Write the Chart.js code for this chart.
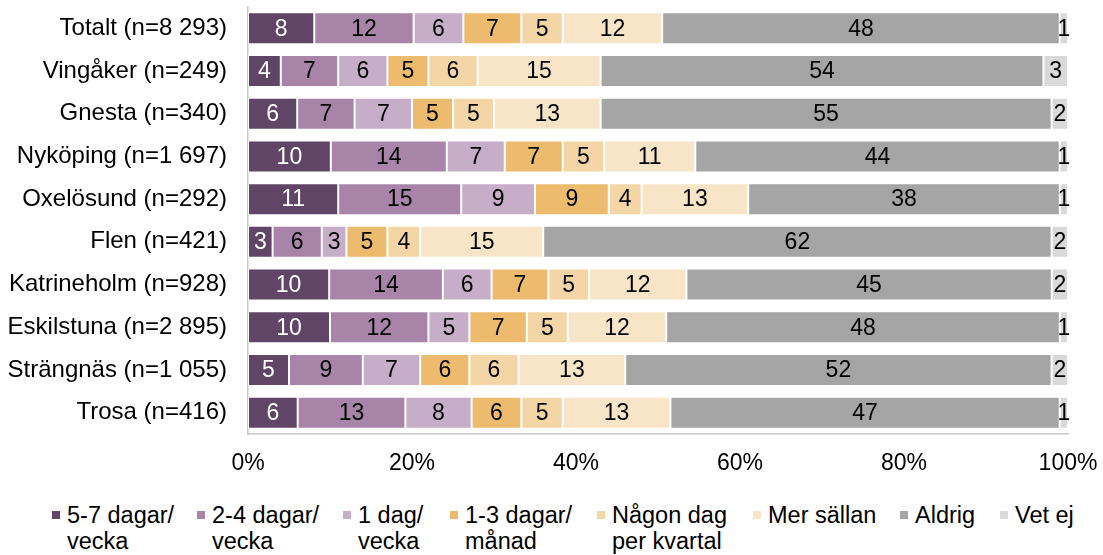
<!DOCTYPE html>
<html>
<head>
<meta charset="utf-8">
<script src="https://cdn.jsdelivr.net/npm/chart.js@4"></script>
<style>
  body { margin: 0; background: #fff; }
  #wrap { position: relative; width: 1103px; height: 555px; }
  #box { position: absolute; left: 0; top: 0; width: 1103px; height: 490px; }
  #legend .item { position: absolute; top: 502px; font: 23.5px "Liberation Sans", Arial, sans-serif; line-height: 26px; color: #000; white-space: nowrap; }
  #legend .item i { position: absolute; left: -15px; top: 9px; width: 8px; height: 8px; }
  #legend .item:nth-child(1) { left: 67px; }
  #legend .item:nth-child(2) { left: 212px; }
  #legend .item:nth-child(3) { left: 358px; }
  #legend .item:nth-child(4) { left: 465px; }
  #legend .item:nth-child(5) { left: 612px; }
  #legend .item:nth-child(6) { left: 768px; }
  #legend .item:nth-child(7) { left: 915px; }
  #legend .item:nth-child(8) { left: 1015px; }
</style>
</head>
<body>
<div id="wrap">
  <div id="box"><canvas id="chart"></canvas></div>
  <div id="legend"></div>
</div>
<script>
// kommuner
var categories = ['Totalt (n=8 293)', 'Vingåker (n=249)', 'Gnesta (n=340)', 'Nyköping (n=1 697)', 'Oxelösund (n=292)',
  'Flen (n=421)', 'Katrineholm (n=928)', 'Eskilstuna (n=2 895)', 'Strängnäs (n=1 055)', 'Trosa (n=416)'];

// andelar i procent per svarsalternativ
var dagar57 = [8, 4, 6, 10, 11, 3, 10, 10, 5, 6];
var dagar24 = [12, 7, 7, 14, 15, 6, 14, 12, 9, 13];
var dag1 = [6, 6, 7, 7, 9, 3, 6, 5, 7, 8];
var manad13 = [7, 5, 5, 7, 9, 5, 7, 7, 6, 6];
var kvartal = [5, 6, 5, 5, 4, 4, 5, 5, 6, 5];
var merSallan = [12, 15, 13, 11, 13, 15, 12, 12, 13, 13];
var aldrig = [48, 54, 55, 44, 38, 62, 45, 48, 52, 47];
var vetEj = [1, 3, 2, 1, 1, 2, 2, 1, 2, 1];

var seriesNames = [['5-7 dagar/', 'vecka'], ['2-4 dagar/', 'vecka'], ['1 dag/', 'vecka'], ['1-3 dagar/', 'månad'],
  ['Någon dag', 'per kvartal'], ['Mer sällan'], ['Aldrig'], ['Vet ej']];
var colors = ['#604566', '#A884A9', '#C6ADC8', '#EDBB6E', '#F4D5A5', '#F8E4C6', '#A5A5A5', '#D9D9D9'];
var xTicks = [0, 20, 40, 60, 80, 100];

var series = [dagar57, dagar24, dag1, manad13, kvartal, merSallan, aldrig, vetEj];

// 100% staplat: varje rad skalas mot sin summa
var totals = categories.map(function (c, j) {
  return series.reduce(function (s, arr) { return s + arr[j]; }, 0);
});

var fontFam = '"Liberation Sans", Arial, sans-serif';
Chart.defaults.font.family = fontFam;
Chart.defaults.color = '#000';

var barLabels = {
  id: 'barLabels',
  afterDatasetsDraw: function (chart) {
    var ctx = chart.ctx;
    ctx.save();
    ctx.font = '23px ' + fontFam;
    ctx.textAlign = 'center';
    ctx.textBaseline = 'middle';
    chart.data.datasets.forEach(function (ds, i) {
      chart.getDatasetMeta(i).data.forEach(function (bar, j) {
        ctx.fillStyle = i === 0 ? '#fff' : '#000';
        ctx.fillText(ds.raw[j], (bar.x + bar.base) / 2, bar.y + 1);
      });
    });
    ctx.restore();
  }
};

var ctx = document.getElementById('chart');
var chart = new Chart(ctx, {
  type: 'bar',
  data: {
    labels: categories,
    datasets: series.map(function (arr, i) {
      return {
        label: seriesNames[i].join(' '),
        raw: arr,
        data: arr.map(function (v, j) { return v / totals[j] * 100; }),
        backgroundColor: colors[i],
        borderColor: '#fff',
        borderWidth: 1,
        borderSkipped: false,
        barPercentage: 0.75,
        categoryPercentage: 1
      };
    })
  },
  options: {
    indexAxis: 'y',
    responsive: true,
    maintainAspectRatio: false,
    animation: false,
    layout: {
      padding: { top: 7, right: 35, bottom: 12, left: 0 }
    },
    plugins: {
      legend: { display: false },
      tooltip: { enabled: false }
    },
    scales: {
      x: {
        stacked: true,
        min: 0,
        max: 100,
        afterBuildTicks: function (s) { s.ticks = xTicks.map(function (v) { return { value: v }; }); },
        afterFit: function (s) { s.paddingLeft = 0; s.paddingRight = 0; s.height = 44; },
        grid: { display: false, drawTicks: false },
        border: { display: true, color: '#C8C8C8', width: 1.5 },
        ticks: {
          padding: 16,
          maxRotation: 0,
          font: { size: 23 },
          callback: function (v) { return v + '%'; }
        }
      },
      y: {
        stacked: true,
        afterFit: function (s) { s.width = 248; s.paddingTop = 0; s.paddingBottom = 0; },
        grid: { display: false, drawTicks: false },
        border: { display: true, color: '#C8C8C8', width: 1.5 },
        ticks: {
          padding: 21,
          autoSkip: false,
          font: { size: 24 }
        }
      }
    }
  },
  plugins: [barLabels]
});

// förklaring under diagrammet
var legend = document.getElementById('legend');
seriesNames.forEach(function (name, i) {
  var item = document.createElement('div');
  item.className = 'item';
  var sw = document.createElement('i');
  sw.style.background = colors[i];
  item.appendChild(sw);
  item.appendChild(document.createTextNode(name[0]));
  if (name[1]) {
    item.appendChild(document.createElement('br'));
    item.appendChild(document.createTextNode(name[1]));
  }
  legend.appendChild(item);
});
</script>
</body>
</html>
